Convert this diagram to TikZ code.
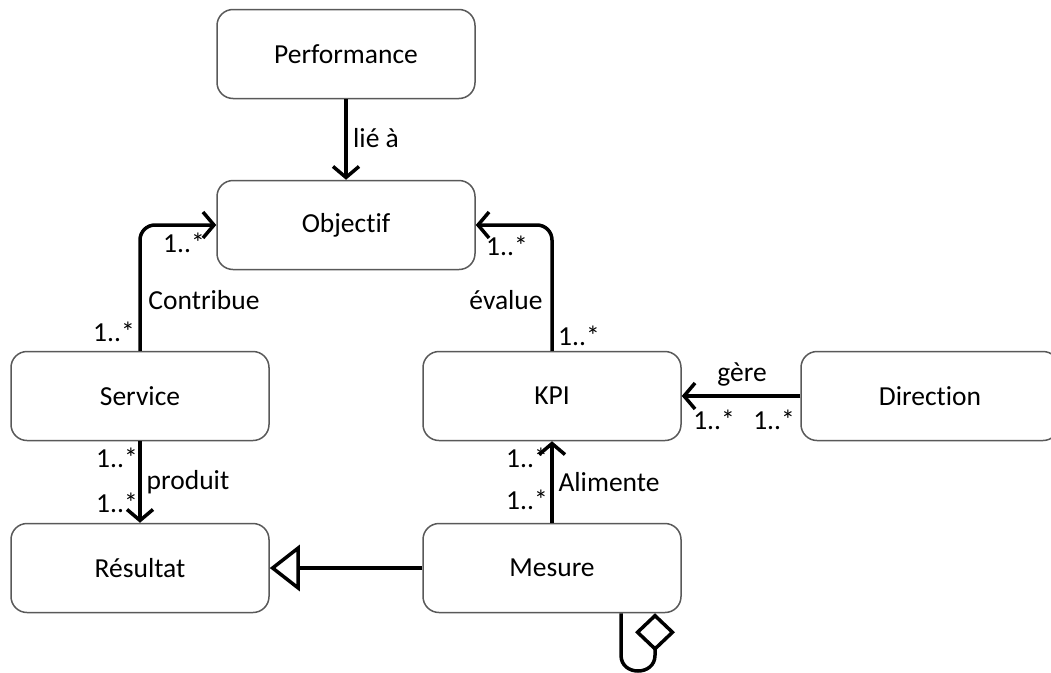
\documentclass[tikz,border=0pt]{standalone}
\usepackage{fontspec}
\setmainfont[Ligatures={NoCommon}]{Carlito}
\usetikzlibrary{arrows.meta}
\begin{document}
\begin{tikzpicture}[x=1pt,y=-1pt,
  box/.style={draw=black!65, line width=1.5pt, rounded corners=16pt, minimum width=258pt, minimum height=89pt, fill=white, font=\fontsize{27.5}{32}\selectfont},
  lbl/.style={font=\fontsize{27.5}{32}\selectfont, inner sep=0pt},
  conn/.style={line width=3.5pt, -{Straight Barb[length=11pt,width=26pt,line width=3.5pt]}},
  gen/.style={line width=3.5pt, -{Triangle[open,length=30pt,width=46pt,line width=3.5pt,fill=white]}},
  agg/.style={line width=3.5pt, -{Diamond[open,length=38pt,width=40pt,line width=3.5pt,fill=white]}}
]
\useasboundingbox (0,0) rectangle (1051,672);
\node[box] (perf) at (346,54) {Performance};
\node[box] (obj) at (346,225) {Objectif};
\node[box] (svc) at (140,396) {Service};
\node[box] (kpi) at (552,396) {KPI};
\node[box] (dir) at (930,396) {Direction};
\node[box] (res) at (140,568) {Résultat};
\node[box] (mes) at (552,568) {Mesure};

\draw[conn] (perf) -- (obj);
\draw[conn, rounded corners=15pt] (svc.north) |- (obj.west);
\draw[conn, rounded corners=15pt] (kpi.north) |- (obj.east);
\draw[conn] (dir) -- (kpi);
\draw[conn] (svc) -- (res);
\draw[conn] (mes) -- (kpi);
\draw[gen] (mes) -- (res);
\draw[agg] ([xshift=69pt]mes.south) -- ([xshift=69pt,yshift=-42pt]mes.south)
  .. controls ([xshift=69pt,yshift=-63pt]mes.south) and ([xshift=103pt,yshift=-63pt]mes.south) .. ([xshift=103pt,yshift=-42pt]mes.south)
  -- ([xshift=103pt]mes.south);

\node[lbl] (l1) at (376,138) {lié à};
\node[lbl] (l2) at (184,243) {1..*};
\node[lbl] (l3) at (204,300) {Contribue};
\node[lbl] (l4) at (114,332) {1..*};
\node[lbl] (l5) at (507,246) {1..*};
\node[lbl] (l6) at (506,300) {évalue};
\node[lbl] (l7) at (579,336) {1..*};
\node[lbl] (l8) at (742,374) {gère};
\node[lbl] (l9) at (714,420) {1..*};
\node[lbl] (l10) at (774,420) {1..*};
\node[lbl] (l11) at (117,458) {1..*};
\node[lbl] (l12) at (188,482) {produit};
\node[lbl] (l13) at (117,503) {1..*};
\node[lbl] (l14) at (527,458) {1..*};
\node[lbl] (l15) at (609,482) {Alimente};
\node[lbl] (l16) at (527,500) {1..*};
\end{tikzpicture}
\end{document}
